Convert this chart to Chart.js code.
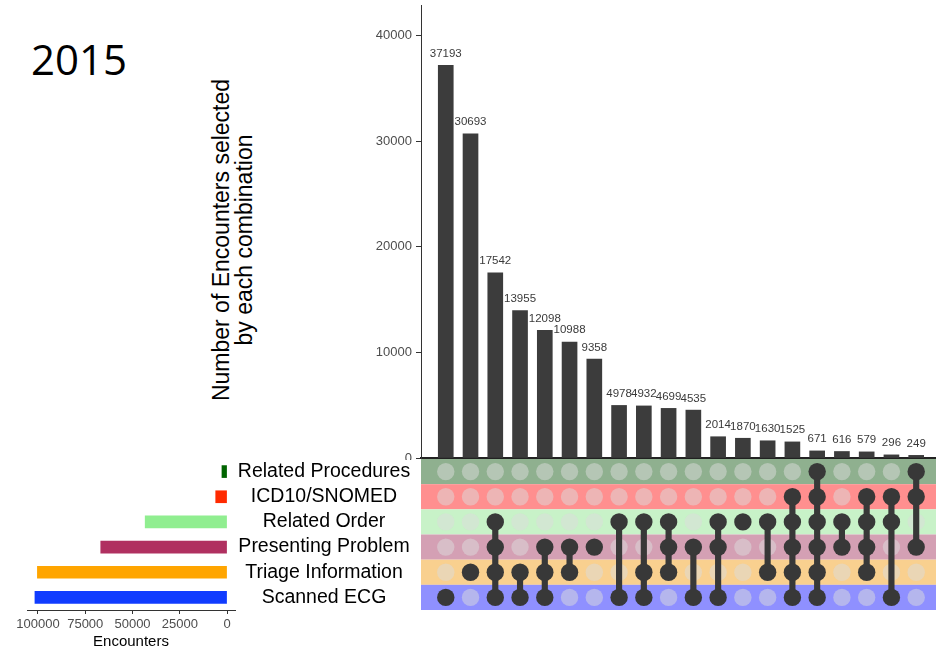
<!DOCTYPE html>
<html><head><meta charset="utf-8">
<script src="https://cdn.jsdelivr.net/npm/chart.js@4/dist/chart.umd.min.js"></script>
<style>
html,body{margin:0;padding:0;background:#fff;}
#wrap{position:relative;width:936px;height:653px;overflow:hidden;background:#fff;}
.abs{position:absolute;}
#year{left:31px;top:38px;font:42px/42px 'Open Sans',sans-serif;color:#000;}
#ytitle{left:33px;top:217px;width:400px;height:46px;font:23px/23px 'Liberation Sans',Arial,sans-serif;text-align:center;transform:rotate(-90deg);color:#000;white-space:nowrap;}
</style></head><body>
<div id="wrap">
  <div id="year" class="abs">2015</div>
  <div id="ytitle" class="abs">Number of Encounters selected<br>by each combination</div>
  <canvas id="topChart" class="abs" width="936" height="460" style="left:0;top:0"></canvas>
  <canvas id="matChart" class="abs" width="515" height="151" style="left:421px;top:459px"></canvas>
  <canvas id="setChart" class="abs" width="421" height="194" style="left:0;top:459px"></canvas>
</div>
<script>
// ---- data ----
const setNames = ['Related Procedures','ICD10/SNOMED','Related Order','Presenting Problem','Triage Information','Scanned ECG'];
const setSizes = [2700, 6000, 43300, 66800, 100300, 101600];
const setAxisTicks = [0, 25000, 50000, 75000, 100000];

const comboCounts = [37193, 30693, 17542, 13955, 12098, 10988, 9358, 4978, 4932, 4699, 4535, 2014, 1870, 1630, 1525, 671, 616, 579, 296, 249];
const comboAxisTicks = [0, 10000, 20000, 30000, 40000];

// membership of each combination (column) in each set
const inRelatedProcedures = [0,0,0,0,0,0,0,0,0,0,0,0,0,0,0,1,0,0,0,1];
const inICD10SNOMED       = [0,0,0,0,0,0,0,0,0,0,0,0,0,0,1,1,0,1,1,1];
const inRelatedOrder      = [0,0,1,0,0,0,0,1,1,1,0,1,1,1,1,1,1,1,1,0];
const inPresentingProblem = [0,0,1,0,1,1,1,0,0,1,1,1,0,0,1,1,1,1,0,1];
const inTriageInformation = [0,1,1,1,1,1,0,0,1,1,0,0,0,1,1,1,0,1,0,0];
const inScannedECG        = [1,0,1,1,1,0,0,1,1,0,1,1,0,0,1,1,0,0,1,0];

// ---- styles ----
const FONT = '"Liberation Sans", Arial, sans-serif';
Chart.defaults.font.family = FONT;
const setColors = ['#006400', '#ff2a00', '#90ee90', '#b03060', '#ffa500', '#103cff'];
const stripeColors = ['#8fb08f', '#ff8f8f', '#c8f2c8', '#d4a0b4', '#f9d08f', '#8f90ff'];
const barColor = '#3c3c3c';
const dotColor = '#383838';
const noPad = s => { s.paddingTop = 0; s.paddingBottom = 0; s.paddingLeft = 0; s.paddingRight = 0; };

// ---- top bar chart ----
const valueLabels = {
  id: 'valueLabels',
  afterDatasetsDraw(chart) {
    const ctx = chart.ctx;
    const meta = chart.getDatasetMeta(0);
    ctx.save();
    ctx.font = '11.5px ' + FONT;
    ctx.fillStyle = '#3a3a3a';
    ctx.textAlign = 'center';
    ctx.textBaseline = 'alphabetic';
    meta.data.forEach((el, i) => ctx.fillText(String(comboCounts[i]), el.x, el.y - 8.5));
    ctx.restore();
  }
};

new Chart(document.getElementById('topChart'), {
  type: 'bar',
  data: { datasets: [{ data: comboCounts.map((v, i) => ({ x: i, y: v })), backgroundColor: barColor, barThickness: 15 }] },
  options: {
    responsive: false, animation: false, devicePixelRatio: 1,
    layout: { padding: { top: 5, bottom: 2, left: 0, right: 0 }, autoPadding: false },
    plugins: { legend: { display: false }, tooltip: { enabled: false } },
    scales: {
      x: {
        type: 'linear', min: -1, max: 19.8, offset: false,
        ticks: { display: false }, grid: { display: false },
        border: { display: true, color: '#222', width: 2 },
        afterFit: s => { s.height = 0; noPad(s); }
      },
      y: {
        min: 0, max: 42900,
        afterBuildTicks: s => { s.ticks = comboAxisTicks.map(v => ({ value: v })); },
        ticks: { callback: v => String(v), color: '#4d4d4d', font: { size: 13 }, padding: 4 },
        grid: { display: true, drawOnChartArea: false, drawTicks: true, tickLength: 5, color: '#333' },
        border: { display: true, color: '#333', width: 1 },
        afterFit: s => { s.width = 421; noPad(s); }
      }
    }
  },
  plugins: [valueLabels]
});

// ---- matrix ----
const memberRows = [inRelatedProcedures, inICD10SNOMED, inRelatedOrder, inPresentingProblem, inTriageInformation, inScannedECG];
const activePts = [], inactivePts = [], connectors = [];
comboCounts.forEach((_, c) => {
  const rows = [];
  memberRows.forEach((row, r) => { (row[c] ? activePts : inactivePts).push({ x: c, y: r }); if (row[c]) rows.push(r); });
  if (rows.length > 1) connectors.push({ x: c, y: [Math.min(...rows), Math.max(...rows)] });
});

const stripes = {
  id: 'stripes',
  beforeDatasetsDraw(chart) {
    const { ctx, chartArea } = chart;
    const ys = chart.scales.y;
    ctx.save();
    stripeColors.forEach((col, r) => {
      const y0 = ys.getPixelForValue(r - 0.5), y1 = ys.getPixelForValue(r + 0.5);
      ctx.fillStyle = col;
      ctx.fillRect(chartArea.left, Math.min(y0, y1), chartArea.right - chartArea.left, Math.abs(y1 - y0));
    });
    ctx.restore();
  }
};

new Chart(document.getElementById('matChart'), {
  type: 'scatter',
  data: {
    datasets: [
      { data: activePts, backgroundColor: dotColor, borderWidth: 0, pointRadius: 8.7, order: 0, clip: false },
      { type: 'bar', data: connectors, backgroundColor: dotColor, barThickness: 5.5, borderWidth: 0, order: 1, clip: false },
      { data: inactivePts, backgroundColor: 'rgba(220,220,220,0.5)', borderWidth: 0, pointRadius: 8.7, order: 2, clip: false }
    ]
  },
  options: {
    responsive: false, animation: false, devicePixelRatio: 1,
    layout: { padding: 0, autoPadding: false },
    plugins: { legend: { display: false }, tooltip: { enabled: false } },
    scales: {
      x: { type: 'linear', min: -1, max: 19.8, display: false, offset: false },
      y: { type: 'linear', min: -0.5, max: 5.5, reverse: true, display: false }
    }
  },
  plugins: [stripes]
});

// ---- set size bars ----
const mctx = document.createElement('canvas').getContext('2d');
mctx.font = '19.5px ' + FONT;
const widest = Math.max(...setNames.map(n => mctx.measureText(n).width));
const labelPad = Math.max(0, (324 - 235) - widest / 2);

new Chart(document.getElementById('setChart'), {
  type: 'bar',
  data: { labels: setNames, datasets: [{ data: setSizes, backgroundColor: setColors, barThickness: 12 }] },
  options: {
    indexAxis: 'y', responsive: false, animation: false, devicePixelRatio: 1,
    layout: { padding: { left: 27, top: 0, right: 0, bottom: 0 }, autoPadding: false },
    plugins: { legend: { display: false }, tooltip: { enabled: false } },
    scales: {
      x: {
        type: 'linear', reverse: true, min: -4200, max: 105800,
        afterBuildTicks: s => { s.ticks = setAxisTicks.map(v => ({ value: v })); },
        ticks: { callback: v => String(v), color: '#4d4d4d', font: { size: 13 }, padding: 3, maxRotation: 0, autoSkip: false },
        grid: { display: true, drawOnChartArea: false, drawTicks: true, tickLength: 4, color: '#333' },
        border: { display: true, color: '#333', width: 1 },
        title: { display: true, text: 'Encounters', color: '#000', font: { size: 15 }, padding: { top: 0, bottom: 2 } },
        afterFit: s => { s.height = 43; noPad(s); }
      },
      y: {
        position: 'right',
        grid: { display: false, drawTicks: false }, border: { display: false },
        ticks: { crossAlign: 'center', padding: labelPad, color: '#000', font: { size: 19.5 }, autoSkip: false },
        afterFit: s => { s.width = 186; noPad(s); }
      }
    }
  }
});
</script>
</body></html>
